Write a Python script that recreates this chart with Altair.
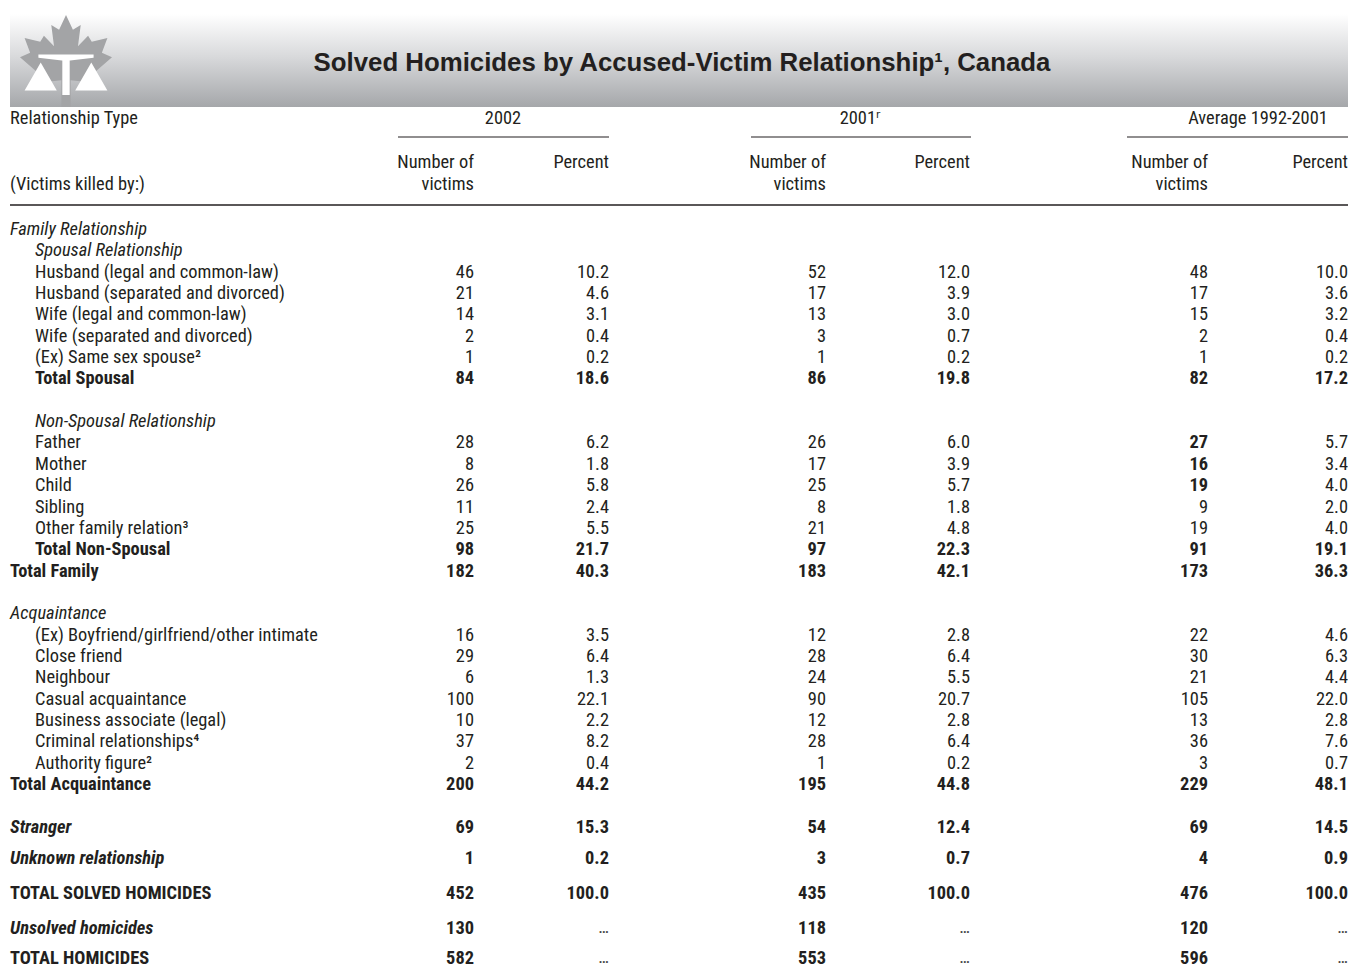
import altair as alt
import pandas as pd

# ---------------- data ----------------
labels = [
    "Family Relationship", "Spousal Relationship",
    "Husband (legal and common-law)", "Husband (separated and divorced)",
    "Wife (legal and common-law)", "Wife (separated and divorced)",
    "(Ex) Same sex spouse²", "Total Spousal",
    "Non-Spousal Relationship", "Father", "Mother", "Child", "Sibling",
    "Other family relation³", "Total Non-Spousal", "Total Family",
    "Acquaintance", "(Ex) Boyfriend/girlfriend/other intimate", "Close friend",
    "Neighbour", "Casual acquaintance", "Business associate (legal)",
    "Criminal relationships⁴", "Authority figure²", "Total Acquaintance",
    "Stranger", "Unknown relationship", "TOTAL SOLVED HOMICIDES",
    "Unsolved homicides", "TOTAL HOMICIDES",
]
n2002 = [None, None, 46, 21, 14, 2, 1, 84, None, 28, 8, 26, 11, 25, 98, 182,
         None, 16, 29, 6, 100, 10, 37, 2, 200, 69, 1, 452, 130, 582]
p2002 = [None, None, 10.2, 4.6, 3.1, 0.4, 0.2, 18.6, None, 6.2, 1.8, 5.8, 2.4, 5.5, 21.7, 40.3,
         None, 3.5, 6.4, 1.3, 22.1, 2.2, 8.2, 0.4, 44.2, 15.3, 0.2, 100.0, None, None]
n2001 = [None, None, 52, 17, 13, 3, 1, 86, None, 26, 17, 25, 8, 21, 97, 183,
         None, 12, 28, 24, 90, 12, 28, 1, 195, 54, 3, 435, 118, 553]
p2001 = [None, None, 12.0, 3.9, 3.0, 0.7, 0.2, 19.8, None, 6.0, 3.9, 5.7, 1.8, 4.8, 22.3, 42.1,
         None, 2.8, 6.4, 5.5, 20.7, 2.8, 6.4, 0.2, 44.8, 12.4, 0.7, 100.0, None, None]
navg = [None, None, 48, 17, 15, 2, 1, 82, None, 27, 16, 19, 9, 19, 91, 173,
        None, 22, 30, 21, 105, 13, 36, 3, 229, 69, 4, 476, 120, 596]
pavg = [None, None, 10.0, 3.6, 3.2, 0.4, 0.2, 17.2, None, 5.7, 3.4, 4.0, 2.0, 4.0, 19.1, 36.3,
        None, 4.6, 6.3, 4.4, 22.0, 2.8, 7.6, 0.7, 48.1, 14.5, 0.9, 100.0, None, None]

year_heads = ["2002", "2001ʳ", "Average 1992-2001"]
title = "Solved Homicides by Accused-Victim Relationship¹, Canada"

# ---------------- styles / layout ----------------
label_style = (["italic", "italic"] + ["normal"] * 5 + ["bold"] + ["italic"] + ["normal"] * 5
               + ["bold", "bold"] + ["italic"] + ["normal"] * 7 + ["bold"]
               + ["bolditalic", "bolditalic", "bold", "bolditalic", "bold"])
indent = [0, 1, 1, 1, 1, 1, 1, 1, 1, 1, 1, 1, 1, 1, 1, 0, 0, 1, 1, 1, 1, 1, 1, 1, 0,
          0, 0, 0, 0, 0]
gap_before = {8: 1, 16: 1, 25: 1, 26: 0.45, 27: 0.65, 28: 0.65, 29: 0.4}
bold_rows = {7, 14, 15, 24, 25, 26, 27, 28, 29}
bold_cells = {(9, 4), (10, 4), (11, 4)}

slots, s = [], 0.0
for i in range(len(labels)):
    s += gap_before.get(i, 0)
    slots.append(s)
    s += 1

# x keys: -2 = flush-left label, -1 = indented label, 0..5 = value columns
rows = []
for i, lab in enumerate(labels):
    rows.append(dict(slot=slots[i], text=lab, xk=-2 + indent[i], style=label_style[i]))
lab_df = pd.DataFrame(rows)

cells = []
series = [n2002, p2002, n2001, p2001, navg, pavg]
for i in range(len(labels)):
    for c, ser in enumerate(series):
        v = ser[i]
        is_pct = c % 2 == 1
        if v is None:
            if is_pct and series[c - 1][i] is not None:
                cells.append(dict(slot=slots[i], xk=c, text="…", style="dots"))
            continue
        txt = f"{v:.1f}" if is_pct else f"{int(v)}"
        st = "bold" if (i in bold_rows or (i, c) in bold_cells) else "normal"
        cells.append(dict(slot=slots[i], xk=c, text=txt, style=st))
cell_df = pd.DataFrame(cells)

FONT = "Liberation Sans Narrow, Roboto Condensed, DejaVu Sans Condensed, sans-serif"
FS = 18.4
INK = "#231f20"
OX, OY = 8, 8  # page margin
RIGHT = 1348   # right edge of the drawable page area

yscale = alt.Scale(domain=[0, 26], range=[229 - OY, 784 - OY])
col_right = [474, 609, 826, 970, 1208, RIGHT]
xscale = alt.Scale(domain=[-2, -1, 0, 1, 2, 3, 4, 5],
                   range=[10 - OX, 35 - OX] + [v - OX for v in col_right])

layers = []

# banner
one = pd.DataFrame({"k": [0]})
banner = alt.Chart(one).mark_rect(
    fill=alt.Gradient(gradient="linear", x1=0, x2=0, y1=0, y2=1,
                      stops=[alt.GradientStop(color="#ffffff", offset=0),
                             alt.GradientStop(color="#d9dadc", offset=0.45),
                             alt.GradientStop(color="#a5a7aa", offset=1)])
).encode(x=alt.value(10 - OX), x2=alt.value(RIGHT - OX), y=alt.value(14 - OY), y2=alt.value(107 - OY))
layers.append(banner)

leaf_path = ("M0,-1 L0.15,-0.68 L0.32,-0.78 L0.26,-0.32 L0.48,-0.55 L0.56,-0.42 L0.9,-0.5 "
             "L0.78,-0.18 L1,-0.08 L0.58,0.28 L0.66,0.48 L0.1,0.42 L0.1,1 L-0.1,1 L-0.1,0.42 "
             "L-0.66,0.48 L-0.58,0.28 L-1,-0.08 L-0.78,-0.18 L-0.9,-0.5 L-0.56,-0.42 "
             "L-0.48,-0.55 L-0.26,-0.32 L-0.32,-0.78 L-0.15,-0.68 Z")
scales_path = ("M-0.6,-0.14 L0.6,-0.14 L0.6,-0.07 L0.09,-0.01 L-0.09,-0.01 L-0.6,-0.07 Z "
               "M-0.08,-0.01 L0.08,-0.01 L0.08,0.74 L-0.08,0.74 Z "
               "M-0.55,0.03 L-0.2,0.64 L-0.9,0.64 Z "
               "M0.55,0.03 L0.9,0.64 L0.2,0.64 Z")
leaf = alt.Chart(one).mark_point(shape=leaf_path, filled=True, fill="#a3a4a6", strokeWidth=0,
                                 opacity=1, size=46 * 46 * 4).encode(
    x=alt.value(66 - OX), y=alt.value(61 - OY))
scl = alt.Chart(one).mark_point(shape=scales_path, filled=True, fill="#ffffff", strokeWidth=0,
                                opacity=1, size=46 * 46 * 4).encode(
    x=alt.value(66 - OX), y=alt.value(61 - OY))
layers += [leaf, scl]

layers.append(alt.Chart(pd.DataFrame({"t": [title]})).mark_text(
    font="Liberation Sans, Arial, sans-serif", fontSize=25.8, fontWeight="bold", color=INK,
    align="center", baseline="middle").encode(
    text="t:N", x=alt.value(682 - OX), y=alt.value(63 - OY)))

# header texts
def htext(txt, x, y, align):
    return alt.Chart(pd.DataFrame({"t": [txt]})).mark_text(
        font=FONT, fontSize=FS, color=INK, align=align, baseline="middle").encode(
        text="t:N", x=alt.value(x - OX), y=alt.value(y - OY))

layers.append(htext("Relationship Type", 10, 118, "left"))
layers.append(htext("(Victims killed by:)", 10, 184, "left"))
for (txt, cx) in zip(year_heads, [503, 860, 1258]):
    layers.append(htext(txt, cx, 118, "center"))
for c in range(3):
    layers.append(htext("Number of", col_right[2 * c], 162, "right"))
    layers.append(htext("victims", col_right[2 * c], 184, "right"))
    layers.append(htext("Percent", col_right[2 * c + 1], 162, "right"))

# rules
for (a, b) in [(398, 609), (751, 971), (1127, RIGHT)]:
    layers.append(alt.Chart(one).mark_rule(color=INK, strokeWidth=1.2).encode(
        x=alt.value(a - OX), x2=alt.value(b - OX), y=alt.value(137 - OY)))
layers.append(alt.Chart(one).mark_rule(color=INK, strokeWidth=1.5).encode(
    x=alt.value(10 - OX), x2=alt.value(RIGHT - OX), y=alt.value(205 - OY)))

# row labels
style_map = {"normal": ("normal", "normal"), "bold": ("bold", "normal"),
             "italic": ("normal", "italic"), "bolditalic": ("bold", "italic")}
for st, (fw, fs) in style_map.items():
    layers.append(alt.Chart(lab_df).transform_filter(alt.datum.style == st).mark_text(
        font=FONT, fontSize=FS, fontWeight=fw, fontStyle=fs, color=INK,
        align="left", baseline="middle").encode(
        x=alt.X("xk:Q", scale=xscale, axis=None),
        y=alt.Y("slot:Q", scale=yscale, axis=None),
        text="text:N"))

# cells
for st in ["normal", "bold"]:
    layers.append(alt.Chart(cell_df).transform_filter(alt.datum.style == st).mark_text(
        font=FONT, fontSize=FS, fontWeight=st, color=INK,
        align="right", baseline="middle").encode(
        x=alt.X("xk:Q", scale=xscale, axis=None),
        y=alt.Y("slot:Q", scale=yscale, axis=None),
        text="text:N"))
layers.append(alt.Chart(cell_df).transform_filter(alt.datum.style == "dots").mark_text(
    font=FONT, fontSize=18, color="#444444", align="right", baseline="middle").encode(
    x=alt.X("xk:Q", scale=xscale, axis=None),
    y=alt.Y("slot:Q", scale=yscale, axis=None),
    text="text:N"))

chart = alt.layer(*layers).properties(
    width=1340, height=960, padding=0, autosize="none"
).configure(background="white").configure_view(strokeWidth=0, stroke=None)

chart.save("out.html", embed_options={"renderer": "svg", "actions": False})
